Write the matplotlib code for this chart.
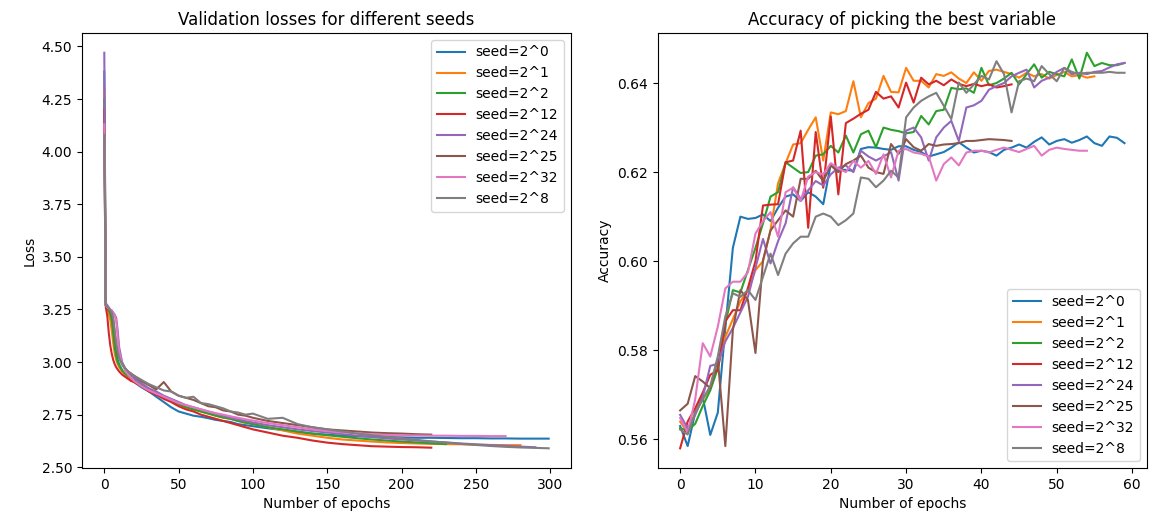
import matplotlib
matplotlib.use("Agg")
import matplotlib.pyplot as plt

labels = ['seed=2^0', 'seed=2^1', 'seed=2^2', 'seed=2^12',
          'seed=2^24', 'seed=2^25', 'seed=2^32', 'seed=2^8']

# validation loss, sampled at these epochs (each run stops at its own length)
loss_epochs = [0, 1, 2, 3, 4, 5, 6, 7, 8, 9, 10, 12, 14, 16, 18, 20,
               25, 30, 35, 40, 45, 50, 55, 60, 65, 70, 75, 80, 85, 90, 95, 100,
               110, 120, 130, 140, 150, 160, 170, 180, 190, 200, 210, 220,
               230, 240, 250, 260, 270, 280, 290, 299]

loss_s0 = [4.38, 3.27, 3.26, 3.25, 3.24, 3.22, 3.17, 3.10, 3.05, 3.01, 2.99, 2.96,
           2.94, 2.925, 2.915, 2.905, 2.88, 2.86, 2.835, 2.81, 2.785, 2.765, 2.755,
           2.745, 2.74, 2.733, 2.725, 2.72, 2.715, 2.705, 2.70, 2.695, 2.685, 2.677,
           2.667, 2.66, 2.655, 2.65, 2.648, 2.645, 2.643, 2.642, 2.64, 2.64, 2.639,
           2.638, 2.638, 2.637, 2.637, 2.636, 2.636, 2.636]
loss_s1 = [4.30, 3.27, 3.25, 3.23, 3.20, 3.15, 3.09, 3.04, 3.01, 2.99, 2.975, 2.955,
           2.94, 2.93, 2.92, 2.91, 2.89, 2.87, 2.85, 2.83, 2.815, 2.80, 2.785, 2.775,
           2.765, 2.755, 2.745, 2.735, 2.73, 2.72, 2.71, 2.705, 2.69, 2.675, 2.66,
           2.65, 2.64, 2.632, 2.627, 2.622, 2.618, 2.615, 2.613, 2.611, 2.61, 2.609,
           2.607, 2.606, 2.605, 2.605]
loss_s2 = [4.25, 3.27, 3.26, 3.245, 3.23, 3.20, 3.14, 3.07, 3.03, 3.00, 2.985, 2.96,
           2.945, 2.935, 2.925, 2.915, 2.89, 2.87, 2.85, 2.83, 2.815, 2.80, 2.785,
           2.775, 2.765, 2.755, 2.745, 2.737, 2.73, 2.72, 2.713, 2.705, 2.69, 2.68,
           2.67, 2.66, 2.652, 2.645, 2.638, 2.632, 2.627, 2.622, 2.618, 2.614, 2.61]
loss_s12 = [4.20, 3.26, 3.22, 3.14, 3.08, 3.04, 3.01, 2.99, 2.975, 2.965, 2.955, 2.94,
            2.93, 2.92, 2.91, 2.905, 2.885, 2.86, 2.845, 2.825, 2.81, 2.79, 2.775,
            2.765, 2.75, 2.74, 2.73, 2.72, 2.71, 2.70, 2.69, 2.68, 2.665, 2.65, 2.64,
            2.627, 2.617, 2.61, 2.605, 2.60, 2.598, 2.596, 2.595, 2.593]
loss_s24 = [4.47, 3.28, 3.27, 3.26, 3.25, 3.245, 3.235, 3.225, 3.21, 3.15, 3.07, 3.0,
            2.97, 2.95, 2.935, 2.925, 2.90, 2.875, 2.86, 2.84, 2.825, 2.81, 2.795,
            2.785, 2.775, 2.765, 2.755, 2.745, 2.735, 2.728, 2.72, 2.713, 2.70, 2.69,
            2.68, 2.672, 2.665, 2.658, 2.65, 2.643, 2.637, 2.632, 2.627, 2.622, 2.618,
            2.613, 2.609, 2.605, 2.602, 2.598, 2.595]
loss_s25 = [4.10, 3.27, 3.26, 3.25, 3.24, 3.23, 3.20, 3.14, 3.08, 3.04, 3.02, 2.99,
            2.97, 2.955, 2.945, 2.935, 2.91, 2.89, 2.87, 2.905, 2.86, 2.84, 2.83, 2.82,
            2.805, 2.79, 2.785, 2.77, 2.765, 2.75, 2.745, 2.735, 2.72, 2.71, 2.70,
            2.69, 2.68, 2.675, 2.67, 2.665, 2.662, 2.66, 2.657, 2.655]
loss_s32 = [4.13, 3.27, 3.26, 3.255, 3.25, 3.24, 3.23, 3.22, 3.20, 3.12, 3.05, 2.99,
            2.96, 2.94, 2.925, 2.91, 2.885, 2.865, 2.85, 2.835, 2.82, 2.805, 2.795,
            2.785, 2.775, 2.765, 2.757, 2.75, 2.742, 2.735, 2.728, 2.722, 2.71, 2.70,
            2.69, 2.68, 2.672, 2.666, 2.661, 2.657, 2.654, 2.652, 2.651, 2.65, 2.65,
            2.649, 2.649, 2.648, 2.648]
loss_s8 = [4.08, 3.27, 3.265, 3.255, 3.245, 3.235, 3.21, 3.15, 3.09, 3.05, 3.02, 2.99,
           2.97, 2.955, 2.945, 2.935, 2.915, 2.895, 2.88, 2.865, 2.86, 2.84, 2.83,
           2.835, 2.805, 2.80, 2.79, 2.78, 2.765, 2.76, 2.75, 2.755, 2.73, 2.735,
           2.705, 2.69, 2.68, 2.67, 2.66, 2.652, 2.645, 2.638, 2.63, 2.623, 2.617,
           2.611, 2.606, 2.601, 2.597, 2.594, 2.592, 2.59]

# accuracy of picking the best variable, one value per epoch
acc_s0 = [0.563, 0.5585, 0.566, 0.5695, 0.561, 0.566, 0.585, 0.603, 0.610, 0.6095,
          0.6097, 0.6105, 0.609, 0.612, 0.6145, 0.615, 0.6135, 0.6155, 0.6145, 0.6128,
          0.6218, 0.6205, 0.6205, 0.6203, 0.6252, 0.6256, 0.6255, 0.6252, 0.6250, 0.6258,
          0.6258, 0.6250, 0.6245, 0.6235, 0.6240, 0.6245, 0.6255, 0.6267, 0.6255, 0.6244,
          0.6248, 0.6245, 0.6237, 0.6250, 0.6255, 0.6262, 0.6255, 0.6268, 0.6278, 0.6262,
          0.6270, 0.6274, 0.6266, 0.6272, 0.6280, 0.6265, 0.6259, 0.6280, 0.6277, 0.6265]
acc_s1 = [0.564, 0.5615, 0.566, 0.569, 0.5715, 0.576, 0.583, 0.587, 0.591, 0.5935,
          0.598, 0.600, 0.607, 0.6175, 0.622, 0.6262, 0.6265, 0.6295, 0.6323, 0.6226,
          0.6334, 0.633, 0.6337, 0.6404, 0.6323, 0.6355, 0.6365, 0.6416, 0.638, 0.6379,
          0.6434, 0.6405, 0.6405, 0.639, 0.642, 0.6416, 0.6424, 0.641, 0.640, 0.6424,
          0.6405, 0.6427, 0.643, 0.6425, 0.642, 0.6412, 0.6423, 0.6415, 0.642, 0.641,
          0.6418, 0.6425, 0.6415, 0.6418, 0.6412, 0.6415]
acc_s2 = [0.5625, 0.562, 0.5635, 0.5675, 0.571, 0.576, 0.586, 0.5935, 0.593, 0.598,
          0.603, 0.6085, 0.6145, 0.6155, 0.6222, 0.621, 0.6198, 0.620, 0.6237, 0.624,
          0.6259, 0.6244, 0.6282, 0.6244, 0.6285, 0.6293, 0.6256, 0.630, 0.6295, 0.6292,
          0.6287, 0.6290, 0.6326, 0.6307, 0.6337, 0.6340, 0.6389, 0.6386, 0.6388, 0.6378,
          0.6434, 0.6395, 0.6400, 0.6410, 0.6423, 0.6397, 0.6420, 0.6442, 0.6412, 0.6425,
          0.6420, 0.6415, 0.6453, 0.641, 0.6468, 0.6438, 0.6445, 0.644, 0.6440, 0.6445]
acc_s12 = [0.558, 0.564, 0.567, 0.5705, 0.5745, 0.5755, 0.5865, 0.589, 0.589, 0.594,
           0.600, 0.6125, 0.6127, 0.6128, 0.6222, 0.6226, 0.6293, 0.6075, 0.629, 0.6165,
           0.6325, 0.615, 0.631, 0.6320, 0.6331, 0.6340, 0.6380, 0.6365, 0.6370, 0.6345,
           0.6401, 0.6356, 0.6412, 0.6397, 0.6405, 0.6395, 0.6408, 0.6398, 0.6393, 0.6398,
           0.6393, 0.6397, 0.6390, 0.6393, 0.6397]
acc_s24 = [0.5655, 0.5625, 0.5655, 0.5695, 0.5765, 0.577, 0.582, 0.585, 0.5885, 0.592,
           0.5985, 0.605, 0.5995, 0.6045, 0.6085, 0.6166, 0.614, 0.6159, 0.618, 0.617,
           0.6195, 0.621, 0.6215, 0.620, 0.6248, 0.6235, 0.6226, 0.6235, 0.6245, 0.6181,
           0.6293, 0.630, 0.6278, 0.6226, 0.6278, 0.630, 0.6315, 0.627, 0.6345, 0.635,
           0.636, 0.6385, 0.6393, 0.640, 0.6415, 0.6423, 0.643, 0.639, 0.6405, 0.6412,
           0.6425, 0.6434, 0.642, 0.6423, 0.642, 0.6425, 0.6427, 0.6435, 0.6442, 0.6445]
acc_s25 = [0.5665, 0.568, 0.5742, 0.573, 0.5715, 0.578, 0.5585, 0.5846, 0.5935, 0.5913,
           0.5794, 0.6002, 0.6069, 0.6092, 0.6114, 0.6100, 0.6185, 0.6185, 0.6203, 0.618,
           0.6215, 0.6200, 0.6218, 0.6226, 0.6237, 0.6210, 0.6200, 0.6196, 0.6263, 0.6241,
           0.6274, 0.6256, 0.6248, 0.6263, 0.6259, 0.6262, 0.6263, 0.6265, 0.627, 0.627,
           0.6272, 0.6274, 0.6273, 0.6272, 0.627]
acc_s32 = [0.5648, 0.5615, 0.569, 0.5816, 0.5786, 0.5853, 0.5939, 0.5954, 0.5954, 0.5975,
           0.6062, 0.609, 0.611, 0.6055, 0.6155, 0.6165, 0.6135, 0.619, 0.620, 0.6195,
           0.622, 0.6208, 0.620, 0.6225, 0.621, 0.6225, 0.6196, 0.624, 0.6188, 0.6248,
           0.6252, 0.6244, 0.6241, 0.6235, 0.6181, 0.6218, 0.6233, 0.6215, 0.6244, 0.6248,
           0.6248, 0.6244, 0.6250, 0.6255, 0.6250, 0.6245, 0.6252, 0.6259, 0.6237, 0.6250,
           0.6255, 0.6252, 0.625, 0.6248, 0.6248]
acc_s8 = [0.5622, 0.5611, 0.566, 0.569, 0.572, 0.5786, 0.5876, 0.5928, 0.592, 0.5935,
          0.5913, 0.5965, 0.6017, 0.5969, 0.6017, 0.604, 0.6055, 0.6055, 0.610, 0.6107,
          0.610, 0.6081, 0.6092, 0.6107, 0.6188, 0.6185, 0.6166, 0.6181, 0.6203, 0.6188,
          0.6323, 0.6345, 0.6360, 0.6370, 0.6378, 0.6349, 0.6319, 0.6401, 0.6378, 0.6397,
          0.6416, 0.6408, 0.6449, 0.6420, 0.6334, 0.6404, 0.6410, 0.6404, 0.6438, 0.642,
          0.6404, 0.6434, 0.6425, 0.642, 0.6423, 0.6423, 0.6423, 0.6425, 0.6423, 0.6423]

losses = [loss_s0, loss_s1, loss_s2, loss_s12, loss_s24, loss_s25, loss_s32, loss_s8]
accs = [acc_s0, acc_s1, acc_s2, acc_s12, acc_s24, acc_s25, acc_s32, acc_s8]

fig, (ax1, ax2) = plt.subplots(1, 2, figsize=(11.56, 5.23), dpi=100)
fig.subplots_adjust(left=0.071, right=0.992, bottom=0.105, top=0.937, wspace=0.178)

for lab, vals in zip(labels, losses):
    ax1.plot(loss_epochs[:len(vals)], vals, label=lab)
ax1.set_title('Validation losses for different seeds')
ax1.set_xlabel('Number of epochs')
ax1.set_ylabel('Loss')
ax1.legend(loc='upper right')

for lab, vals in zip(labels, accs):
    ax2.plot(range(len(vals)), vals, label=lab)
ax2.set_title('Accuracy of picking the best variable')
ax2.set_xlabel('Number of epochs')
ax2.set_ylabel('Accuracy')
ax2.legend(loc='lower right')

fig.savefig('out.png')
